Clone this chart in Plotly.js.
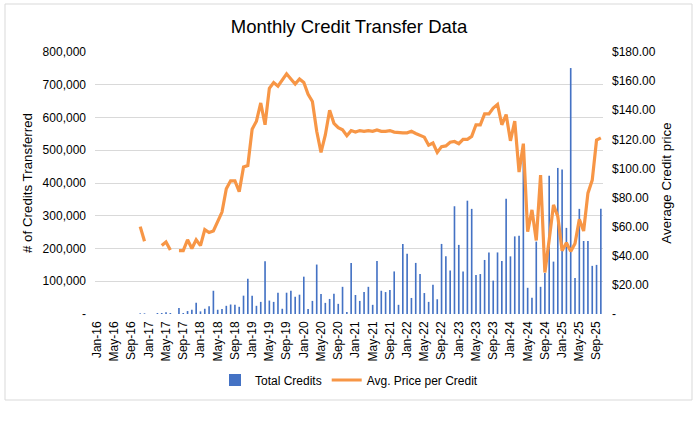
<!DOCTYPE html>
<html>
<head>
<meta charset="utf-8">
<script src="https://cdn.plot.ly/plotly-3.0.1.min.js"></script>
<style>
  body { margin: 0; background: #fff; }
  #chart { width: 698px; height: 438px; }
</style>
</head>
<body>
<div id="chart"></div>
<script>
// category labels: Jan-16 .. Oct-25
const monthNames = ['Jan', 'Feb', 'Mar', 'Apr', 'May', 'Jun', 'Jul', 'Aug', 'Sep', 'Oct', 'Nov', 'Dec'];
const years = ['16', '17', '18', '19', '20', '21', '22', '23', '24', '25'];
const lastMonth = 'Oct-25';

// number of credits transferred per month
const totalCredits = [
    0, 0, 0, 0, 0, 0, 0, 0, 0, 0, 2000, 2000,                                    // 2016
    0, 0, 3000, 3000, 5000, 3000, 0, 18000, 3000, 9000, 13000, 34000,              // 2017
    8000, 16000, 24000, 71000, 13000, 15000, 25000, 29000, 28000, 22000, 56000, 108000, // 2018
    56000, 25000, 37000, 161000, 41000, 37000, 65000, 16000, 65000, 71000, 53000, 59000, // 2019
    114000, 15000, 40000, 151000, 61000, 34000, 46000, 62000, 31000, 83000, 6000, 156000, // 2020
    58000, 40000, 67000, 83000, 28000, 162000, 71000, 67000, 73000, 130000, 28000, 214000, // 2021
    184000, 49000, 156000, 122000, 64000, 37000, 89000, 45000, 214000, 176000, 133000, 329000, // 2022
    211000, 130000, 346000, 321000, 119000, 122000, 165000, 188000, 102000, 188000, 162000, 352000, // 2023
    176000, 237000, 239000, 470000, 80000, 50000, 221000, 83000, 125000, 422000, 160000, 446000, // 2024
    441000, 263000, 751000, 110000, 321000, 223000, 223000, 147000, 150000, 321000  // 2025
];

// average price per credit ($), null where no price was reported
const avgPrice = [
    null, null, null, null, null, null, null, null, null, null, 60, 50,
    null, null, null, 47, 49.5, 44, null, 43.5, 43.5, 51, 45, 51,
    47, 58, 56, 57, 64, 70, 86, 91.5, 91.5, 84, 101, 102,
    127, 132.5, 145, 130, 155, 159, 156.5, 161, 165, 161.5, 158, 161.5,
    159, 151, 146, 125.5, 111, 123, 140, 131, 128, 126.5, 122.5, 126,
    125, 126, 125.5, 126, 125.5, 126.5, 125.5, 125.5, 126, 125, 124.5, 124.5,
    124.5, 125.5, 124, 123, 121.5, 116, 117.5, 111, 115, 115.5, 118, 118.5,
    117, 120, 120, 122, 130, 130, 137.5, 137.5, 141.5, 144, 130, 137,
    119, 132.5, 97.5, 117, 56.5, 71.5, 50.5, 95.5, 28.5, 51, 75, 67,
    43.5, 49, 43, 48.5, 65, 57, 83, 92, 119.5, 121
];

const leftTicks = [0, 100000, 200000, 300000, 400000, 500000, 600000, 700000, 800000];
const leftTickText = ['-', '100,000', '200,000', '300,000', '400,000', '500,000', '600,000', '700,000', '800,000'];
const rightTicks = [0, 20, 40, 60, 80, 100, 120, 140, 160, 180];
const rightTickText = ['-', '$20.00', '$40.00', '$60.00', '$80.00', '$100.00', '$120.00', '$140.00', '$160.00', '$180.00'];

let months = [];
for (let y of years) {
    for (let m of monthNames) {
        months.push(m + '-' + y);
        if (m + '-' + y === lastMonth) break;
    }
}
let shownTicks = months.filter((m, i) => i % 4 === 0);

const FONT = 'Liberation Sans, Arial, sans-serif';

var credits = {
    x: months,
    y: totalCredits,
    type: 'bar',
    name: 'Total Credits',
    marker: { color: '#4472C4' },
    yaxis: 'y'
};

var price = {
    x: months,
    y: avgPrice,
    type: 'scatter',
    mode: 'lines',
    name: 'Avg. Price per Credit',
    line: { color: '#F79646', width: 3.2 },
    connectgaps: false,
    yaxis: 'y2'
};

var layout = {
    width: 698,
    height: 438,
    margin: { l: 95, r: 95, t: 52, b: 124 },
    paper_bgcolor: '#ffffff',
    plot_bgcolor: '#ffffff',
    font: { family: FONT, size: 12, color: '#000' },
    title: {
        text: 'Monthly Credit Transfer Data',
        font: { size: 18.5, color: '#000' },
        x: 0.5, xanchor: 'center',
        y: 1 - 27 / 438, yanchor: 'middle'
    },
    bargap: 0.62,
    showlegend: true,
    legend: {
        orientation: 'h',
        x: 0.5, xanchor: 'center',
        y: -0.252, yanchor: 'middle',
        font: { size: 12 }
    },
    xaxis: {
        type: 'category',
        tickmode: 'array',
        tickvals: shownTicks,
        ticktext: shownTicks,
        tickangle: -90,
        tickfont: { size: 12 },
        showgrid: false,
        zeroline: false,
        showline: false,
        ticks: '',
        ticklabelstandoff: 4
    },
    yaxis: {
        range: [0, 800000],
        tickmode: 'array',
        tickvals: leftTicks,
        ticktext: leftTickText,
        tickfont: { size: 12 },
        gridcolor: '#D9D9D9',
        zeroline: false,
        showline: false,
        ticklabelstandoff: 8,
        title: { text: '# of Credits Transferred', font: { size: 13.33 }, standoff: 6 }
    },
    yaxis2: {
        overlaying: 'y',
        side: 'right',
        range: [0, 180],
        tickmode: 'array',
        tickvals: rightTicks,
        ticktext: rightTickText,
        tickfont: { size: 12 },
        showgrid: false,
        zeroline: false,
        showline: false,
        ticklabelstandoff: 8,
        title: { text: 'Average Credit price', font: { size: 13.33 }, standoff: 6 }
    },
    shapes: [{
        type: 'rect',
        xref: 'paper', yref: 'paper',
        x0: (5 - 95) / 508, x1: (692 - 95) / 508,
        y0: (314 - 400) / 262, y1: (314 - 4) / 262,
        line: { color: '#D9D9D9', width: 1 },
        fillcolor: 'rgba(0,0,0,0)',
        layer: 'below'
    }]
};

Plotly.newPlot('chart', [credits, price], layout, { displayModeBar: false, staticPlot: true });
</script>
</body>
</html>
